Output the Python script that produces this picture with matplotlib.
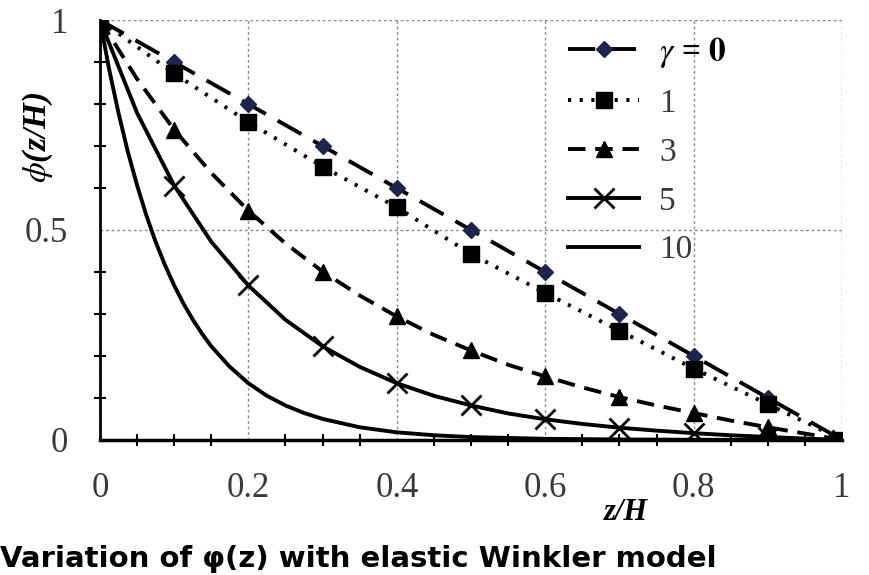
import numpy as np
import matplotlib.pyplot as plt

# phi(z/H), markers every 0.1
z_mark = [0, 0.1, 0.2, 0.3, 0.4, 0.5, 0.6, 0.7, 0.8, 0.9, 1.0]
phi_g0 = [1, 0.90, 0.80, 0.70, 0.60, 0.50, 0.40, 0.30, 0.20, 0.10, 0]
phi_g1 = [1, 0.873, 0.757, 0.651, 0.554, 0.443, 0.35, 0.26, 0.17, 0.085, 0]
phi_g3 = [1, 0.739, 0.546, 0.401, 0.294, 0.213, 0.151, 0.102, 0.064, 0.03, 0]
phi_g5 = [1, 0.606, 0.368, 0.223, 0.135, 0.082, 0.049, 0.029, 0.016, 0.007, 0]

# the smooth curves, read at a finer step
z_fine = [0, 0.05, 0.1, 0.15, 0.2, 0.25, 0.3, 0.35, 0.4, 0.45, 0.5,
          0.55, 0.6, 0.65, 0.7, 0.75, 0.8, 0.85, 0.9, 0.95, 1.0]
line_g3 = [1, 0.860, 0.739, 0.636, 0.546, 0.468, 0.401, 0.344, 0.294, 0.250,
           0.213, 0.179, 0.151, 0.125, 0.102, 0.082, 0.064, 0.046, 0.030,
           0.015, 0]
line_g5 = [1, 0.779, 0.606, 0.472, 0.368, 0.286, 0.223, 0.174, 0.135, 0.105,
           0.082, 0.063, 0.049, 0.038, 0.029, 0.022, 0.016, 0.011, 0.007,
           0.003, 0]
z_g10 = [0, 0.0125, 0.025, 0.0375, 0.05, 0.0625, 0.075, 0.0875, 0.1, 0.1125,
         0.125, 0.1375, 0.15, 0.175, 0.2, 0.225, 0.25, 0.275, 0.3, 0.35, 0.4,
         0.45, 0.5, 0.6, 0.7, 0.8, 0.9, 1.0]
line_g10 = [1, 0.882, 0.779, 0.687, 0.607, 0.535, 0.472, 0.417, 0.368, 0.325,
            0.287, 0.253, 0.223, 0.174, 0.135, 0.105, 0.082, 0.064, 0.050,
            0.030, 0.018, 0.011, 0.0067, 0.0025, 0.001, 0.0003, 0.0001, 0]

legend_labels = [r'$\gamma$ = $\mathbf{0}$', '1', '3', '5', '10']

plt.rcParams['font.family'] = ['Liberation Serif', 'DejaVu Serif']
plt.rcParams['mathtext.fontset'] = 'stix'

fig = plt.figure(figsize=(8.69, 5.75), dpi=100)
ax = fig.add_axes([0.115, 0.235, 0.854, 0.73])

lw = 2.8
k = 'black'
h0, = ax.plot(z_mark, phi_g0, color=k, lw=lw, dashes=(7, 3.5), marker='D',
              ms=8, mfc='#1c2550', mec='#1c2550', label=legend_labels[0])
h1, = ax.plot(z_mark, phi_g1, color=k, lw=lw, dashes=(0.8, 2.2), marker='s',
              ms=11, mfc=k, mec=k, label=legend_labels[1])
ax.plot(z_fine, line_g3, color=k, lw=lw, dashes=(4.5, 2.5))
ax.plot(z_mark, phi_g3, ls='none', marker='^', ms=11, color=k)
h3, = ax.plot([], [], color=k, lw=lw, dashes=(4.5, 2.5), marker='^', ms=11,
              label=legend_labels[2])
ax.plot(z_fine, line_g5, color=k, lw=lw)
ax.plot(z_mark, phi_g5, ls='none', marker='x', ms=14, mew=2, color=k)
h5, = ax.plot([], [], color=k, lw=lw, marker='x', ms=14, mew=2,
              label=legend_labels[3])
h10, = ax.plot(z_g10, line_g10, color=k, lw=lw, label=legend_labels[4])

ax.set_xlim(0, 1)
ax.set_ylim(0, 1)
ax.set_xticks([0, 0.2, 0.4, 0.6, 0.8, 1])
ax.set_xticklabels(['0', '0.2', '0.4', '0.6', '0.8', '1'])
ax.set_yticks([0, 0.5, 1])
ax.set_yticklabels(['0', '0.5', '1'])
ax.set_xticks(np.arange(0, 1.001, 0.05), minor=True)
ax.set_yticks(np.arange(0, 1.001, 0.1), minor=True)
ax.tick_params(axis='both', which='major', labelsize=25, length=0,
               labelcolor='#3a3a3a')
ax.tick_params(axis='x', which='major', pad=23)
ax.tick_params(axis='y', which='major', pad=23)
ax.tick_params(axis='x', which='minor', direction='inout', length=9, width=1.5)
ax.tick_params(axis='y', which='minor', direction='inout', length=9, width=1.5)

ax.grid(True, which='major', color='#8a8a8a', ls=(0, (2, 2)), lw=1)
for s in ['top', 'right']:
    ax.spines[s].set_visible(False)
ax.spines['left'].set_linewidth(2)
ax.spines['bottom'].set_linewidth(2.5)

ax.set_xlabel('z/H', fontsize=22, fontweight='bold', style='italic')
ax.xaxis.set_label_coords(0.709, -0.138)
ax.set_ylabel(r'$\phi$(z/H)', fontsize=24, fontweight='bold', style='italic')
ax.yaxis.set_label_coords(-0.06, 0.72)

leg = ax.legend(handles=[h0, h1, h3, h5, h10], loc='upper left',
                bbox_to_anchor=(0.59, 1.036), frameon=False, fontsize=24,
                handlelength=2.15, labelspacing=0.55, handletextpad=0.6)
leg.get_texts()[0].set_fontweight('bold')
for t in leg.get_texts()[1:]:
    t.set_color('#3a3a3a')

fig.text(0.0, 0.004, 'Variation of φ(z) with elastic Winkler model',
         fontsize=21, fontweight='bold', family=['DejaVu Sans'], ha='left',
         va='bottom')

fig.savefig('out.png', dpi=100)
